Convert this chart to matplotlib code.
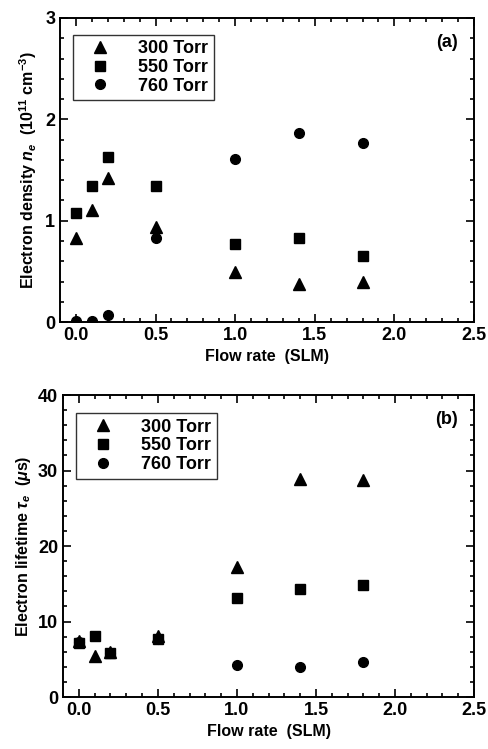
import matplotlib.pyplot as plt
from matplotlib.ticker import MultipleLocator

plt.rcParams['font.family'] = ['Liberation Sans', 'DejaVu Sans']
plt.rcParams['font.weight'] = 'bold'
plt.rcParams['axes.labelweight'] = 'bold'
plt.rcParams['mathtext.fontset'] = 'custom'
plt.rcParams['mathtext.rm'] = 'Liberation Sans:bold'
plt.rcParams['mathtext.it'] = 'Liberation Sans:bold:italic'

# data
flow = [0.0, 0.1, 0.2, 0.5, 1.0, 1.4, 1.8]
labels = ['300 Torr', '550 Torr', '760 Torr']
markers = ['^', 's', 'o']
msizes = [9, 6.5, 7]

dens_300 = [0.83, 1.11, 1.42, 0.94, 0.49, 0.38, 0.40]
dens_550 = [1.08, 1.34, 1.63, 1.34, 0.77, 0.83, 0.65]
dens_760 = [0.01, 0.01, 0.07, 0.83, 1.61, 1.87, 1.77]

life_300 = [7.4, 5.4, 6.0, 8.1, 17.2, 28.9, 28.8]
life_550 = [7.2, 8.05, 5.8, 7.7, 13.1, 14.3, 14.8]
life_760 = [7.3, float('nan'), 5.8, 7.7, 4.2, 4.0, 4.6]

fig = plt.figure(figsize=(4.89, 7.49), dpi=100)
ax1 = fig.add_axes([0.1227, 0.570, 0.8466, 0.406])
ax2 = fig.add_axes([0.129, 0.0694, 0.8403, 0.4032])


def style(ax, ymax, ymajor, yminor, tag, legy):
    ax.set_xlim(-0.1, 2.5)
    ax.set_ylim(0, ymax)
    ax.xaxis.set_major_locator(MultipleLocator(0.5))
    ax.xaxis.set_minor_locator(MultipleLocator(0.1))
    ax.yaxis.set_major_locator(MultipleLocator(ymajor))
    ax.yaxis.set_minor_locator(MultipleLocator(yminor))
    ax.tick_params(which='both', direction='in', top=True, right=True, labelsize=13, width=1.2)
    ax.tick_params(which='major', length=6)
    ax.tick_params(which='minor', length=3)
    ax.xaxis.set_major_formatter(lambda v, p: f'{v:.1f}')
    for s in ax.spines.values():
        s.set_linewidth(1.4)
    ax.text(0.96, 0.92, tag, transform=ax.transAxes, ha='right', va='center', fontsize=13)
    ax.set_xlabel('Flow rate  (SLM)', fontsize=11.5)
    leg = ax.legend(loc='upper left', bbox_to_anchor=(0.01, legy), fontsize=13,
                    frameon=True, fancybox=False, edgecolor='black', handletextpad=0.9,
                    borderpad=0.3, labelspacing=0.1, handlelength=2.4)
    leg.get_frame().set_linewidth(1.0)


for ys, lab, m, ms in zip([dens_300, dens_550, dens_760], labels, markers, msizes):
    ax1.plot(flow, ys, linestyle='none', marker=m, markersize=ms, color='black', label=lab)
for ys, lab, m, ms in zip([life_300, life_550, life_760], labels, markers, msizes):
    ax2.plot(flow, ys, linestyle='none', marker=m, markersize=ms, color='black', label=lab)

style(ax1, 3, 1, 0.2, '(a)', 0.975)
style(ax2, 40, 10, 2, '(b)', 0.97)
ax1.set_ylabel(r'Electron density $n_e$  (10$^{11}$ cm$^{-3}$)', fontsize=11.5)
ax2.set_ylabel(r'Electron lifetime $\tau_e$  ($\mu$s)', fontsize=11.5)

fig.savefig('out.png', dpi=100)
